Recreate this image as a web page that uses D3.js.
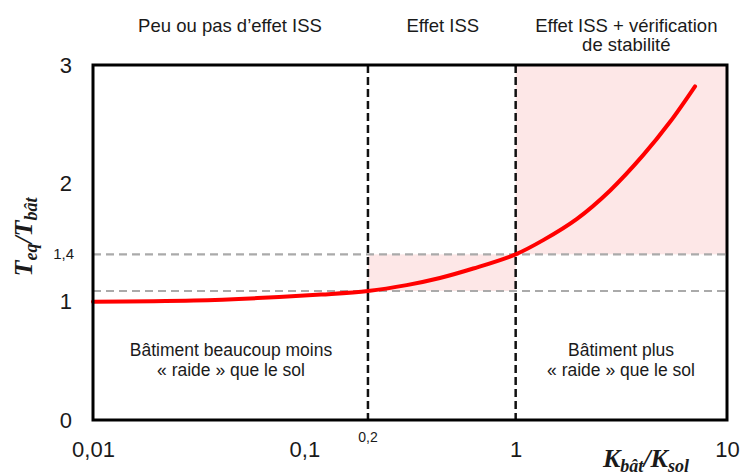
<!DOCTYPE html>
<html><head><meta charset="utf-8">
<script src="https://cdn.jsdelivr.net/npm/d3@7"></script>
<style>body{margin:0;background:#fff}svg{display:block}</style>
</head><body><svg id="c" width="742" height="475"></svg>
<script>
// Data
const kRatio = [0.01, 0.03, 0.06, 0.12, 0.2, 0.305, 0.438, 0.63, 1, 1.35, 1.95, 2.8, 4.02, 5.38, 7.06];
const tRatio = [1.0, 1.01, 1.03, 1.06, 1.09, 1.14, 1.20, 1.28, 1.4, 1.52, 1.70, 1.94, 2.24, 2.52, 2.82];
const xTicks = [0.01, 0.1, 1, 10];
const xTickLabels = ["0,01", "0,1", "1", "10"];
const yTicks = [0, 1, 2, 3];
const yTickLabels = ["0", "1", "2", "3"];
const xThresholds = [0.2, 1];
const xThresholdLabels = ["0,2"];
const yThresholds = [1.09, 1.4];
const yThresholdLabels = ["", "1,4"];
const zoneTitles = [["Peu ou pas d\u2019effet ISS"], ["Effet ISS"], ["Effet ISS + v\u00e9rification", "de stabilit\u00e9"]];
const zoneBounds = [[0.01, 0.2], [0.2, 1], [1, 10]];
const innerNotes = [["B\u00e2timent beaucoup moins", "\u00ab raide \u00bb que le sol"], ["B\u00e2timent plus", "\u00ab raide \u00bb que le sol"]];

const SANS = "'Liberation Sans', Arial, sans-serif";
const MATH = "'Liberation Serif', 'DejaVu Serif', serif";
const INK = "#1a1a1a";

const svg = d3.select("#c").style("font-family", SANS);
const L = 93, R = 727, T = 65, B = 420;
const x = d3.scaleLog().domain([0.01, 10]).range([L, R]);
const y = d3.scaleLinear().domain([0, 3]).range([B, T]);

const pink = "#fde7e7";
svg.append("rect").attr("x", x(xThresholds[0])).attr("y", y(yThresholds[1]))
  .attr("width", x(xThresholds[1]) - x(xThresholds[0])).attr("height", y(yThresholds[0]) - y(yThresholds[1])).attr("fill", pink);
svg.append("rect").attr("x", x(xThresholds[1])).attr("y", y(3))
  .attr("width", x(10) - x(xThresholds[1])).attr("height", y(yThresholds[1]) - y(3)).attr("fill", pink);

yThresholds.forEach(v => {
  svg.append("line").attr("x1", L).attr("x2", R).attr("y1", y(v)).attr("y2", y(v))
    .attr("stroke", "#aaaaaa").attr("stroke-width", 2.2).attr("stroke-dasharray", "8,5");
});
xThresholds.forEach(v => {
  svg.append("line").attr("x1", x(v)).attr("x2", x(v)).attr("y1", T).attr("y2", B)
    .attr("stroke", "#111").attr("stroke-width", 2.5).attr("stroke-dasharray", "8,4");
});

const pts = kRatio.map((k, i) => [k, tRatio[i]]);
svg.append("path").datum(pts)
  .attr("d", d3.line().x(d => x(d[0])).y(d => y(d[1])).curve(d3.curveCatmullRom.alpha(0.5)))
  .attr("fill", "none").attr("stroke", "#ff0000").attr("stroke-width", 4).attr("stroke-linecap", "round");

svg.append("rect").attr("x", L).attr("y", T).attr("width", R - L).attr("height", B - T)
  .attr("fill", "none").attr("stroke", "#000").attr("stroke-width", 3);

const xa = svg.append("g").attr("transform", `translate(0,${B})`)
  .call(d3.axisBottom(x).tickValues(xTicks).tickFormat((d, i) => xTickLabels[i]).tickSize(0).tickPadding(21));
xa.select(".domain").remove();
xa.selectAll("text").style("font-size", "22px").style("font-family", SANS).attr("fill", INK);

const ya = svg.append("g").attr("transform", `translate(${L},0)`)
  .call(d3.axisLeft(y).tickValues(yTicks).tickFormat((d, i) => yTickLabels[i]).tickSize(0).tickPadding(21));
ya.select(".domain").remove();
ya.selectAll("text").style("font-size", "22px").style("font-family", SANS).attr("fill", INK);

svg.append("text").attr("x", x(xThresholds[0])).attr("y", 442).attr("text-anchor", "middle")
  .style("font-size", "14px").attr("fill", INK).text(xThresholdLabels[0]);
svg.append("text").attr("x", 74).attr("y", y(yThresholds[1]) + 5).attr("text-anchor", "end")
  .style("font-size", "15px").attr("fill", INK).text(yThresholdLabels[1]);

zoneTitles.forEach((lines, i) => {
  const cx = i === 0 ? 230 : (x(zoneBounds[i][0]) + x(zoneBounds[i][1])) / 2 + (i === 2 ? 5 : 1);
  lines.forEach((s, j) => {
    svg.append("text").attr("x", cx).attr("y", 32 + j * 19).attr("text-anchor", "middle")
      .style("font-size", "18.5px").attr("fill", INK).text(s);
  });
});

innerNotes.forEach((lines, i) => {
  const cx = i === 0 ? 231 : 621;
  lines.forEach((s, j) => {
    svg.append("text").attr("x", cx).attr("y", 356 + j * 20).attr("text-anchor", "middle")
      .style("font-size", "17.5px").attr("fill", INK).text(s);
  });
});

const yt = svg.append("text").attr("transform", "translate(32,237) rotate(-90)")
  .attr("text-anchor", "middle").style("font-family", MATH).style("font-weight", "bold")
  .style("font-style", "italic").style("font-size", "26px").attr("fill", INK);
yt.append("tspan").text("T");
yt.append("tspan").style("font-size", "18px").attr("dy", 5).text("eq");
yt.append("tspan").attr("dy", -5).text("/T");
yt.append("tspan").style("font-size", "18px").attr("dy", 5).text("b\u00e2t");

const xt = svg.append("text").attr("x", 646).attr("y", 467)
  .attr("text-anchor", "middle").style("font-family", MATH).style("font-weight", "bold")
  .style("font-style", "italic").style("font-size", "26px").attr("fill", INK);
xt.append("tspan").text("K");
xt.append("tspan").style("font-size", "18px").attr("dy", 5).text("b\u00e2t");
xt.append("tspan").attr("dy", -5).text("/K");
xt.append("tspan").style("font-size", "18px").attr("dy", 5).text("sol");
</script></body></html>
